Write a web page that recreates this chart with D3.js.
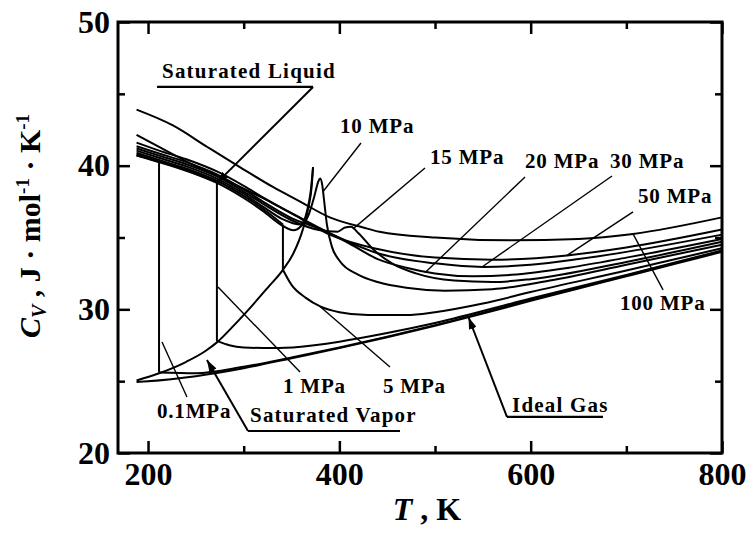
<!DOCTYPE html>
<html>
<head>
<meta charset="utf-8">
<script src="https://cdn.jsdelivr.net/npm/d3@7"></script>
<style>
  body { margin: 0; background: #fff; }
  text { font-family: "Liberation Serif", "Times New Roman", serif; font-weight: bold; fill: #000; }
</style>
</head>
<body>
<svg id="chart" width="753" height="539"></svg>
<script>
// Isochoric heat capacity of H2S: isobars, saturation boundaries and ideal gas

// axis ticks
const xMajorTicks = [200, 400, 600, 800];
const xMinorTicks = [300, 500, 700];
const yMajorTicks = [20, 30, 40, 50];
const yMinorTicks = [25, 35, 45];

// [T / K, Cv / J mol-1 K-1]
const idealGas = [[188,24.95],[200,25.0],[250,25.35],[300,25.9],[350,26.6],[400,27.3],[450,28.05],[500,28.85],[550,29.7],[600,30.6],[650,31.45],[700,32.3],[750,33.15],[800,34.0]];
const satVapor = [[188,25.05],[211.5,25.55],[240,26.35],[260,27.1],[272,27.7],[290,28.9],[310,30.35],[325,31.5],[341,32.75],[352,33.9],[362,35.6],[368,37.2],[371,38.5],[372.5,39.9]];
const satLiquid = [[188,40.7],[211.5,40.25],[240,39.65],[272,38.8],[300,37.75],[320,36.85],[341,35.8],[352,35.5],[360,35.8],[366,36.8],[370,38.2],[372.5,39.9]];

const p01Liquid = [[188,40.72],[200,40.5],[211.5,40.25]];
const p01Vapor = [[211.5,25.6],[250,25.55],[300,26.0],[350,26.65],[400,27.35],[500,28.9],[600,30.65],[700,32.35],[800,34.05]];
const p1Liquid = [[188,40.78],[211.5,40.3],[240,39.7],[272,38.85]];
const p1Vapor = [[272,27.8],[285,27.5],[300,27.35],[330,27.3],[360,27.4],[400,27.75],[450,28.35],[500,29.05],[600,30.75],[700,32.4],[800,34.1]];
const p5Liquid = [[188,40.9],[211.5,40.4],[240,39.8],[272,38.95],[300,37.9],[320,37.0],[341,35.9]];
const p5Vapor = [[341,32.75],[350,31.7],[365,30.8],[380,30.2],[400,29.8],[430,29.6],[470,29.6],[500,29.8],[550,30.4],[600,31.2],[700,32.7],[800,34.25]];
const p10 = [[188,41.05],[211.5,40.55],[240,39.95],[272,39.1],[300,38.05],[320,37.15],[340,36.3],[360,35.9],[368,36.6],[374,37.9],[378,38.9],[380,39.1],[382,38.7],[384,37.6],[387,35.9],[392,34.4],[400,33.4],[420,32.4],[440,31.9],[470,31.5],[510,31.3],[560,31.4],[620,32.0],[700,33.1],[800,34.5]];
const p15 = [[188,41.2],[211.5,40.7],[240,40.1],[272,39.25],[300,38.2],[320,37.35],[350,36.2],[380,35.5],[398,35.4],[406,35.7],[412,35.75],[420,35.3],[435,34.2],[455,33.2],[480,32.5],[520,32.0],[560,31.9],[600,32.1],[700,33.3],[800,34.7]];
const p20 = [[188,41.35],[211.5,40.85],[240,40.25],[272,39.4],[300,38.35],[320,37.5],[350,36.35],[380,35.6],[410,34.6],[440,33.5],[470,32.9],[500,32.5],[540,32.3],[580,32.4],[640,32.9],[700,33.6],[800,34.9]];
const p30 = [[188,41.6],[211.5,41.05],[240,40.45],[272,39.6],[300,38.6],[320,37.8],[350,36.7],[390,35.3],[440,33.9],[500,33.2],[550,32.95],[600,33.1],[650,33.5],[700,34.0],[800,35.2]];
const p50 = [[188,42.15],[211.5,41.3],[240,40.3],[272,39.3],[300,38.4],[330,37.4],[360,36.3],[390,35.2],[440,34.2],[500,33.6],[560,33.45],[638,33.75],[700,34.3],[800,35.55]];
const p100 = [[188,43.9],[226,42.8],[262,41.3],[296,39.9],[331,38.5],[359,37.5],[390,36.4],[425,35.7],[442,35.4],[500,35.0],[580,34.8],[650,34.9],[707,35.25],[800,36.4]];

// curve groups: each entry is a list of pieces; consecutive pieces joined by a straight jump
const isobars = [
  [p01Liquid, p01Vapor],
  [p1Liquid, p1Vapor],
  [p5Liquid, p5Vapor],
  [p10], [p15], [p20], [p30], [p50], [p100],
  [satLiquid], [satVapor], [idealGas]
];

// callout texts: [text, label T, label Cv, leader from T, Cv, leader to T, Cv]
const pressureNotes = [
  ["10 MPa", 400.7, 42.27, 422.6, 41.58, 383, 38.2],
  ["15 MPa", 494.8, 40.12, 489.5, 39.84, 414.3, 35.6],
  ["20 MPa", 594.1, 39.84, 594.1, 39.21, 489.5, 32.55],
  ["30 MPa", 683.0, 39.84, 685.0, 39.28, 549.1, 32.95],
  ["50 MPa", 712.2, 37.40, 707.0, 36.78, 638.0, 33.75],
  ["100 MPa", 693.4, 29.95, 738.4, 31.35, 707.0, 35.25],
  ["1 MPa", 341.1, 24.18, 358.9, 25.64, 273.1, 31.55],
  ["5 MPa", 445.6, 24.18, 452.9, 25.99, 379.8, 30.2],
  ["0.1MPa", 209.4, 22.44, 240.7, 23.9, 214.6, 27.73]
];
// underlined names with arrows: [text, label T, label Cv, underline from T, to T, underline Cv, arrow tip T, Cv, arrow starts at underline end ("start"/"end")]
const curveNames = [
  ["Saturated Liquid", 214.6, 46.1, 209.4, 372.5, 45.48, 272, 38.8, "end"],
  ["Saturated Vapor", 306.6, 22.16, 304.5, 463.4, 21.53, 261.6, 26.47, "start"],
  ["Ideal Gas", 580.5, 22.85, 575.2, 675.6, 22.51, 535, 29.45, "start"]
];

const svg = d3.select("#chart");
const x = d3.scaleLinear().domain([168.6, 800]).range([118, 722]);
const y = d3.scaleLinear().domain([20, 50]).range([453, 22]);

svg.append("defs").append("marker")
  .attr("id", "head")
  .attr("viewBox", "0 0 12 8")
  .attr("refX", 12).attr("refY", 4)
  .attr("markerWidth", 12).attr("markerHeight", 8)
  .attr("markerUnits", "userSpaceOnUse")
  .attr("orient", "auto")
  .append("path").attr("d", "M0,0 L12,4 L0,8 Z").attr("fill", "#000");

// curves
const smooth = d3.line().x(d => x(d[0])).y(d => y(d[1])).curve(d3.curveMonotoneX);
const straight = d3.line().x(d => x(d[0])).y(d => y(d[1]));
const curveG = svg.append("g").attr("fill", "none").attr("stroke", "#000").attr("stroke-width", 2);
isobars.forEach(pieces => {
  pieces.forEach((pts, i) => {
    curveG.append("path").attr("d", smooth(pts));
    if (i > 0) {
      const prev = pieces[i - 1];
      curveG.append("path").attr("d", straight([prev[prev.length - 1], pts[0]]));
    }
  });
});

// axes: inward ticks on all four sides
function ticks(axis, vals, size) {
  return axis.tickValues(vals).tickSizeInner(size).tickSizeOuter(0);
}
const axG = svg.append("g");
axG.append("g").attr("transform", "translate(0,453)")
  .call(ticks(d3.axisBottom(x), xMajorTicks, -12).tickPadding(9).tickFormat(d3.format("d")));
axG.append("g").attr("transform", "translate(0,453)").call(ticks(d3.axisBottom(x), xMinorTicks, -7).tickFormat(""));
axG.append("g").attr("transform", "translate(0,22)").call(ticks(d3.axisTop(x), xMajorTicks, -12).tickFormat(""));
axG.append("g").attr("transform", "translate(0,22)").call(ticks(d3.axisTop(x), xMinorTicks, -7).tickFormat(""));
axG.append("g").attr("transform", "translate(118,0)")
  .call(ticks(d3.axisLeft(y), yMajorTicks, -12).tickPadding(8).tickFormat(d3.format("d")));
axG.append("g").attr("transform", "translate(118,0)").call(ticks(d3.axisLeft(y), yMinorTicks, -7).tickFormat(""));
axG.append("g").attr("transform", "translate(722,0)").call(ticks(d3.axisRight(y), yMajorTicks, -12).tickFormat(""));
axG.append("g").attr("transform", "translate(722,0)").call(ticks(d3.axisRight(y), yMinorTicks, -7).tickFormat(""));
axG.selectAll(".domain").remove();
axG.selectAll(".tick line").attr("stroke", "#000").attr("stroke-width", 2.5);
axG.selectAll(".tick text").attr("font-size", 32).attr("font-family", "Liberation Serif, serif").attr("font-weight", "bold").attr("fill", "#000");

svg.append("rect")
  .attr("x", x(168.6)).attr("y", y(50))
  .attr("width", x(800) - x(168.6)).attr("height", y(20) - y(50))
  .attr("fill", "none").attr("stroke", "#000").attr("stroke-width", 3);

// axis titles
const xt = svg.append("text").attr("x", 427).attr("y", 520).attr("text-anchor", "middle").attr("font-size", 32);
xt.append("tspan").attr("font-style", "italic").text("T");
xt.append("tspan").text(" , K");

const yt = svg.append("text").attr("transform", "translate(40,226) rotate(-90)").attr("text-anchor", "middle").attr("font-size", 30);
yt.append("tspan").attr("font-style", "italic").text("C");
yt.append("tspan").attr("font-style", "italic").attr("font-size", 20).attr("dy", 6).text("V");
yt.append("tspan").attr("dy", -6).text(" , J · mol");
yt.append("tspan").attr("font-size", 19).attr("dy", -11).text("-1");
yt.append("tspan").attr("dy", 11).text(" · K");
yt.append("tspan").attr("font-size", 19).attr("dy", -11).text("-1");

// callouts
const noteG = svg.append("g");
pressureNotes.forEach(([t, lx, ly, ax, ay, bx, by]) => {
  noteG.append("line").attr("x1", x(ax)).attr("y1", y(ay)).attr("x2", x(bx)).attr("y2", y(by))
    .attr("stroke", "#000").attr("stroke-width", 1.4);
  noteG.append("text").attr("x", x(lx)).attr("y", y(ly)).attr("font-size", 21).attr("letter-spacing", 0.8).text(t);
});
curveNames.forEach(([t, lx, ly, u0, u1, uy, tx, ty, side]) => {
  noteG.append("text").attr("x", x(lx)).attr("y", y(ly)).attr("font-size", 21).attr("letter-spacing", 1.2).text(t);
  noteG.append("line").attr("x1", x(u0)).attr("x2", x(u1)).attr("y1", y(uy)).attr("y2", y(uy))
    .attr("stroke", "#000").attr("stroke-width", 2.2);
  const sx = side === "end" ? u1 : u0;
  noteG.append("line").attr("x1", x(sx)).attr("y1", y(uy)).attr("x2", x(tx)).attr("y2", y(ty))
    .attr("stroke", "#000").attr("stroke-width", 2).attr("marker-end", "url(#head)");
});
</script>
</body>
</html>
